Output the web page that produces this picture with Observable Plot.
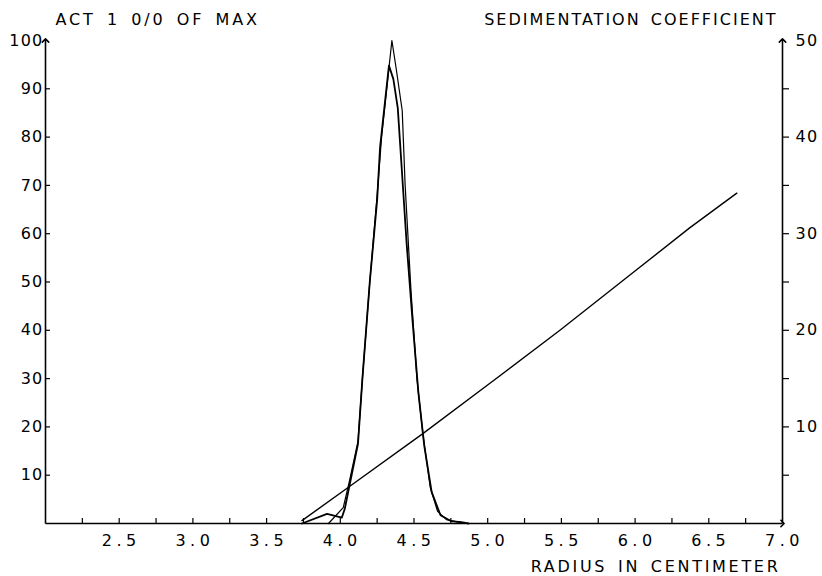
<!DOCTYPE html>
<html>
<head>
<meta charset="utf-8">
<script src="https://cdn.jsdelivr.net/npm/d3@7"></script>
<script src="https://cdn.jsdelivr.net/npm/@observablehq/plot@0.6"></script>
<style>
  html, body { margin: 0; padding: 0; background: #fff; }
  #chart svg { display: block; }
</style>
</head>
<body>
<div id="chart"></div>
<script>
// Activity profile 1 (peak ~95 %)
const actARadius = [3.74, 3.91, 4.01, 4.03, 4.06, 4.12, 4.15, 4.20, 4.25, 4.27, 4.33, 4.36, 4.39, 4.42, 4.45, 4.49, 4.53, 4.57, 4.62, 4.68, 4.75, 4.82, 4.87];
const actAValue  = [0,    2.0,  1.2,  3.0,  7.5,  16.5, 30,   50,   67,   78,   94.8, 92,   86,   72,   58,   42,   27,   16,   6.5,  1.7,  0.5,  0.3,  0];
// Activity profile 2 (peak 100 %)
const actBRadius = [3.92, 4.02, 4.06, 4.12, 4.15, 4.20, 4.25, 4.28, 4.35, 4.38, 4.42, 4.44, 4.48, 4.52, 4.56, 4.61, 4.66, 4.72, 4.80, 4.86];
const actBValue  = [0,    3.3,  8.5,  17,   30,   50,   68,   80,   100,  94,   85.5, 70,   48,   30,   18.6, 7.5,  2.5,  0.8,  0.3,  0];
// Sedimentation coefficient (right axis)
const sedRadius = [3.74, 4.06, 4.56, 5.04, 5.49, 5.98, 6.37, 6.69];
const sedValue  = [0.3,  3.8,  9.3,  14.8, 20.0, 25.9, 30.6, 34.2];

// Tick values
const xLabelTicks = [2.5, 3.0, 3.5, 4.0, 4.5, 5.0, 5.5, 6.0, 6.5, 7.0];
const xMinorTicks = [2.25, 2.5, 2.75, 3.0, 3.25, 3.5, 3.75, 4.0, 4.25, 4.5, 4.75, 5.0, 5.25, 5.5, 5.75, 6.0, 6.25, 6.5, 6.75];
const yLeftTicks = [10, 20, 30, 40, 50, 60, 70, 80, 90, 100];
const yRightTicks = [5, 10, 15, 20, 25, 30, 35, 40, 45];
const yRightLabels = [10, 20, 30, 40, 50];

const titleLeft = "ACT 1 0/0 OF MAX";
const titleRight = "SEDIMENTATION COEFFICIENT";
const titleX = "RADIUS IN CENTIMETER";

const actA = actARadius.map((r, i) => ({r, v: actAValue[i]}));
const actB = actBRadius.map((r, i) => ({r, v: actBValue[i]}));
const sed = sedRadius.map((r, i) => ({r, s: sedValue[i]}));

const font = "DejaVu Sans";
const fs = 16;
const rightFactor = 2; // 50 S on right axis == 100 % on left axis

const plot = Plot.plot({
  width: 822,
  height: 576,
  marginLeft: 45,
  marginRight: 40,
  marginTop: 40,
  marginBottom: 53,
  style: {fontFamily: font, fontSize: fs + "px", color: "#000", background: "#fff"},
  x: {domain: [2, 7], label: null},
  y: {domain: [0, 100], label: null},
  marks: [
    // axis ticks (inward / rightward, plotter style)
    Plot.axisX({ticks: xMinorTicks, tickSize: -5, tickFormat: () => "", strokeWidth: 1.2, label: null}),
    Plot.axisX({ticks: xLabelTicks, tickSize: 0, tickPadding: 11, dx: 2, tickFormat: d => d.toFixed(1), fontSize: fs, label: null}),
    Plot.axisY({anchor: "left", ticks: yLeftTicks.filter(d => d < 100), tickSize: -5, tickFormat: () => "", strokeWidth: 1.2, label: null}),
    Plot.axisY({anchor: "left", ticks: yLeftTicks, tickSize: 0, tickPadding: 2, tickFormat: d => String(d), fontSize: fs, label: null}),
    Plot.axisY({anchor: "right", ticks: yRightTicks.map(d => d * rightFactor), tickSize: 6, tickFormat: () => "", strokeWidth: 1.2, label: null}),
    Plot.axisY({anchor: "right", ticks: yRightLabels.map(d => d * rightFactor), tickSize: 0, tickPadding: 13, tickFormat: d => String(d / rightFactor), fontSize: fs, label: null}),
    // axis lines with arrowheads
    Plot.link([0], {x1: 2, y1: 0, x2: 7, y2: 0, stroke: "#000", strokeWidth: 1.6, markerEnd: "arrow"}),
    Plot.link([0], {x1: 2, y1: 0, x2: 2, y2: 100, stroke: "#000", strokeWidth: 1.6, markerEnd: "arrow"}),
    Plot.link([0], {x1: 7, y1: 0, x2: 7, y2: 100, stroke: "#000", strokeWidth: 1.6, markerEnd: "arrow"}),
    // data
    Plot.line(sed, {x: "r", y: d => d.s * rightFactor, stroke: "#000", strokeWidth: 1.4}),
    Plot.line(actB, {x: "r", y: "v", stroke: "#000", strokeWidth: 1.2}),
    Plot.line(actA, {x: "r", y: "v", stroke: "#000", strokeWidth: 1.8}),
    // titles
    Plot.text([titleLeft], {text: d => d, frameAnchor: "top-left", textAnchor: "start", lineAnchor: "middle", dx: 10, dy: -21, fontSize: fs}),
    Plot.text([titleRight], {text: d => d, frameAnchor: "top-right", textAnchor: "end", lineAnchor: "middle", dx: -5, dy: -21, fontSize: fs}),
    Plot.text([titleX], {text: d => d, frameAnchor: "bottom-right", textAnchor: "end", lineAnchor: "middle", dx: -2, dy: 43, fontSize: fs})
  ]
});

// plotter-style wide letter spacing
const svg = d3.select(plot);
svg.selectAll('g[aria-label="x-axis tick label"] text').style("letter-spacing", "4.5px");
svg.selectAll('g[aria-label="y-axis tick label"] text').style("letter-spacing", "1.2px");
const spacing = {
  [titleLeft]: ["2.8px", "3.5px"],
  [titleRight]: ["2.0px", "3px"],
  [titleX]: ["2.7px", "3px"]
};
svg.selectAll("text").each(function() {
  const s = spacing[this.textContent];
  if (s) d3.select(this).style("letter-spacing", s[0]).style("word-spacing", s[1]);
});
document.getElementById("chart").appendChild(plot);
</script>
</body>
</html>
